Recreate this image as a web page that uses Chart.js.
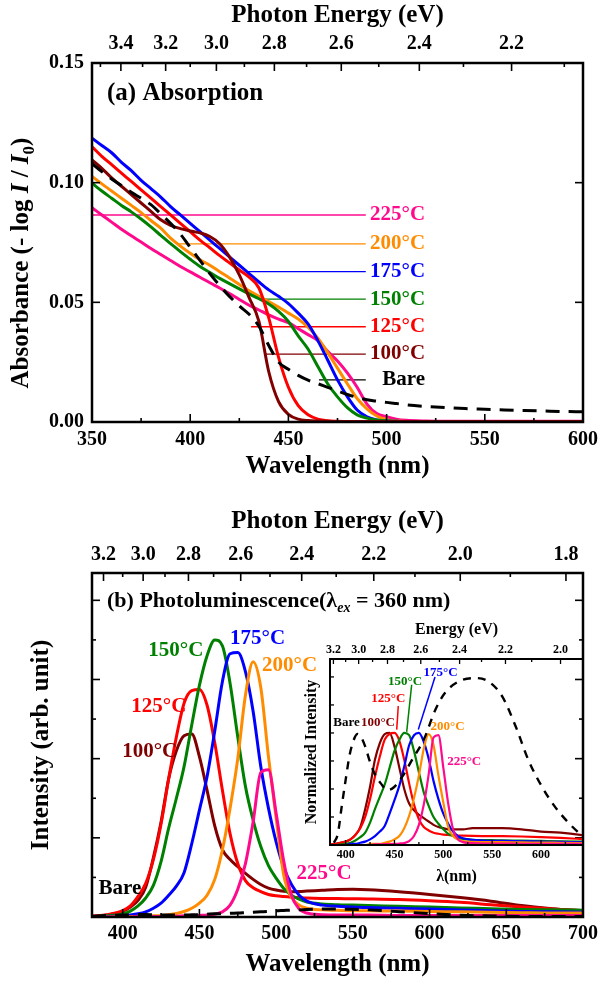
<!DOCTYPE html>
<html><head><meta charset="utf-8">
<script src="https://cdn.jsdelivr.net/npm/chart.js@4.4.0/dist/chart.umd.min.js"></script>
<style>
html,body{margin:0;padding:0;background:#fff;}
body{width:600px;height:985px;position:relative;overflow:hidden;}
canvas{position:absolute;}
</style></head><body>
<canvas id="cA" width="600" height="490" style="left:0;top:0"></canvas>
<canvas id="cB" width="600" height="495" style="left:0;top:490px"></canvas>
<canvas id="cC" width="310" height="275" style="left:290px;top:615px"></canvas>
<script>
// ---------------- DATA ----------------
const HC = 1240; // eV*nm conversion for the photon-energy axes

// (a) Absorption
const absWavelength = [350,355,360,365,370,375,380,385,390,395,400,405,410,415,420,425,430,435,440,445,450,455,460,465,470,475,480,485,490,495,500,505,510,520,530,540,550,560,570,580,590,600];
const absBare = [0.108,0.1046,0.1015,0.0988,0.096,0.0935,0.0908,0.087,0.083,0.0785,0.073,0.0675,0.062,0.057,0.0525,0.0485,0.045,0.04,0.032,0.025,0.022,0.0195,0.0175,0.016,0.0145,0.013,0.0115,0.0103,0.0093,0.0087,0.0082,0.0077,0.0072,0.0065,0.006,0.0056,0.0053,0.005,0.0048,0.0046,0.0044,0.0043];
const abs100 = [0.1095,0.106,0.102,0.0985,0.095,0.0915,0.088,0.0845,0.0822,0.0808,0.0798,0.079,0.0775,0.0745,0.069,0.0615,0.052,0.042,0.021,0.0085,0.0032,0.0012,0.0006,0.0004,0.0003,0.0002,0.0002,0.0002,0.0002,0.0002,0.0002,0.0002,0.0002,0.0002,0.0002,0.0002,0.0002,0.0002,0.0002,0.0002,0.0002,0.0002];
const abs125 = [0.115,0.111,0.1075,0.104,0.1005,0.097,0.0935,0.09,0.0865,0.083,0.0795,0.076,0.0728,0.0695,0.0665,0.0635,0.0605,0.056,0.0435,0.027,0.0145,0.0068,0.003,0.0012,0.0005,0.0003,0.0002,0.0002,0.0002,0.0002,0.0002,0.0002,0.0002,0.0002,0.0002,0.0002,0.0002,0.0002,0.0002,0.0002,0.0002,0.0002];
const abs150 = [0.0998,0.0965,0.0935,0.0905,0.0878,0.0848,0.0815,0.078,0.0745,0.0712,0.068,0.065,0.0625,0.06,0.0578,0.0556,0.0535,0.0515,0.0493,0.0462,0.042,0.036,0.0305,0.0232,0.016,0.0105,0.006,0.003,0.0016,0.0008,0.0004,0.0003,0.0002,0.0002,0.0002,0.0002,0.0002,0.0002,0.0002,0.0002,0.0002,0.0002];
const abs175 = [0.1186,0.1155,0.1125,0.1085,0.105,0.101,0.0975,0.094,0.09,0.0865,0.083,0.0795,0.076,0.0725,0.069,0.0655,0.062,0.0585,0.0552,0.0525,0.0495,0.0455,0.041,0.034,0.0259,0.0176,0.0106,0.005,0.0022,0.0009,0.0004,0.0003,0.0002,0.0002,0.0002,0.0002,0.0002,0.0002,0.0002,0.0002,0.0002,0.0002];
const abs200 = [0.1026,0.0995,0.0965,0.0935,0.0905,0.0875,0.0842,0.081,0.0768,0.0735,0.0705,0.0678,0.0655,0.0628,0.0602,0.0575,0.0548,0.0525,0.0503,0.048,0.0455,0.043,0.0396,0.035,0.029,0.0225,0.016,0.0098,0.0055,0.0025,0.001,0.0004,0.0002,0.0002,0.0002,0.0002,0.0002,0.0002,0.0002,0.0002,0.0002,0.0002];
const abs225 = [0.0895,0.0865,0.0835,0.0805,0.0778,0.0752,0.0725,0.07,0.0675,0.065,0.0627,0.0605,0.0582,0.056,0.0537,0.0512,0.0488,0.0468,0.0448,0.043,0.0415,0.039,0.0365,0.034,0.0295,0.0255,0.0205,0.0145,0.0075,0.0035,0.0022,0.0012,0.0007,0.0004,0.0003,0.0003,0.0003,0.0003,0.0003,0.0003,0.0003,0.0003];
const absLabelText = ['225°C','200°C','175°C','150°C','125°C','100°C','Bare'];
const absLabelKey = ['t225','t200','t175','t150','t125','t100','bare'];
const absLabelLevel = [0.0865,0.0744,0.0628,0.0513,0.0398,0.0284,0.0176];
const absLabelStartNm = [350,393.4,429,435,431,438.6,465.6];
const absLabelEndNm = 489.4;
const absLabelTextNm = 519.6;
const absNmMajor = [350,400,450,500,550,600];
const absNmMinor = [375,425,475,525,575];
const absEnergyMajor = [3.4,3.2,3.0,2.8,2.6,2.4,2.2];
const absEnergyMinor = [3.5,3.3,3.1,2.9,2.7,2.5,2.3,2.1];
const absYMajor = [0,0.05,0.10,0.15];

// (b) Photoluminescence
const plWavelength = [380,390,400,405,410,415,420,425,430,435,440,445,450,455,460,465,470,475,480,485,490,495,500,505,510,515,520,530,540,550,560,580,600,620,640,660,680,700];
const plBare = [0.02,0.04,0.05,0.055,0.06,0.06,0.055,0.05,0.05,0.05,0.05,0.055,0.06,0.07,0.08,0.085,0.095,0.1,0.11,0.12,0.13,0.14,0.155,0.165,0.175,0.18,0.19,0.2,0.2,0.195,0.18,0.135,0.085,0.045,0.025,0.015,0.01,0.01];
const pl100 = [0.02,0.05,0.14,0.25,0.42,0.75,1.5,2.4,3.5,4.2,4.58,4.62,4.05,3.2,2.3,1.7,1.45,1.27,1.1,0.95,0.82,0.73,0.68,0.65,0.64,0.645,0.655,0.675,0.695,0.7,0.69,0.64,0.57,0.49,0.4,0.29,0.21,0.16];
const pl125 = [0.02,0.06,0.16,0.28,0.52,0.85,1.45,2.35,3.5,4.55,5.4,5.72,5.75,5.35,4.4,3.2,2.1,1.35,0.92,0.74,0.64,0.57,0.535,0.515,0.5,0.49,0.48,0.47,0.465,0.46,0.455,0.44,0.41,0.37,0.31,0.25,0.2,0.16];
const pl150 = [0.01,0.03,0.08,0.15,0.28,0.48,0.8,1.4,2.25,3.0,3.8,4.85,5.85,6.6,7.0,6.85,5.9,4.55,3.3,2.45,1.78,1.3,0.98,0.72,0.55,0.45,0.38,0.33,0.31,0.3,0.29,0.27,0.25,0.23,0.21,0.19,0.18,0.17];
const pl175 = [0,0.01,0.03,0.05,0.08,0.13,0.22,0.35,0.55,0.78,1.12,1.85,2.7,3.55,4.7,5.95,6.65,6.68,6.2,5.2,3.8,2.75,1.9,1.25,0.82,0.55,0.4,0.3,0.27,0.25,0.24,0.22,0.2,0.18,0.16,0.14,0.13,0.12];
const pl200 = [0,0,0.01,0.01,0.02,0.02,0.03,0.04,0.06,0.09,0.14,0.22,0.35,0.55,0.95,1.7,2.75,4.0,5.6,6.45,5.8,4.05,2.5,1.05,0.5,0.3,0.22,0.18,0.17,0.16,0.16,0.15,0.14,0.13,0.12,0.11,0.1,0.1];
const pl225 = [0,0,0,0,0.01,0.01,0.01,0.01,0.02,0.02,0.03,0.03,0.04,0.05,0.07,0.13,0.3,0.7,1.35,2.4,3.65,3.72,2.62,1.4,0.55,0.2,0.1,0.06,0.05,0.05,0.05,0.04,0.04,0.04,0.04,0.04,0.04,0.04];
const plNmMajor = [400,450,500,550,600,650,700];
const plNmMinor = [425,475,525,575,625,675];
const plEnergyMajor = [3.2,3.0,2.8,2.6,2.4,2.2,2.0,1.8];
const plEnergyMinor = [3.1,2.9,2.7,2.5,2.3,2.1,1.9];
const plYMajor = [2,4,6,8];
const plYMinor = [1,3,5,7];
const plLabelText = ['Bare','100°C','125°C','150°C','175°C','200°C','225°C'];
const plLabelKey = ['bare','t100','t125','t150','t175','t200','t225'];
const plLabelNm = [398.2,417.6,423.6,434.6,487.9,508.8,531.3];
const plLabelVal = [0.72,4.17,5.31,6.74,7.04,6.34,1.10];

// inset: normalized PL
const norm100 = [0,0.01,0.03,0.05,0.09,0.16,0.32,0.52,0.76,0.91,0.99,1.0,0.88,0.69,0.5,0.37,0.31,0.27,0.24,0.21,0.18,0.16,0.15,0.14,0.14,0.14,0.14,0.15,0.15,0.15,0.15,0.14,0.12,0.11,0.09,0.06,0.05,0.03];
const norm125 = [0,0.01,0.03,0.05,0.09,0.15,0.25,0.41,0.61,0.79,0.94,0.99,1.0,0.93,0.76,0.55,0.36,0.23,0.16,0.13,0.11,0.1,0.093,0.09,0.087,0.085,0.083,0.081,0.08,0.08,0.079,0.076,0.071,0.064,0.054,0.043,0.035,0.028];
const norm150 = [0,0,0.01,0.02,0.04,0.07,0.11,0.2,0.32,0.43,0.54,0.69,0.84,0.94,1.0,0.98,0.84,0.65,0.47,0.35,0.25,0.19,0.14,0.1,0.08,0.064,0.054,0.047,0.044,0.043,0.041,0.039,0.036,0.033,0.03,0.027,0.026,0.024];
const norm175 = [0,0,0,0.01,0.01,0.02,0.03,0.05,0.08,0.12,0.17,0.28,0.4,0.53,0.7,0.89,0.98,1.0,0.92,0.77,0.57,0.41,0.28,0.19,0.12,0.08,0.06,0.045,0.04,0.037,0.036,0.033,0.03,0.027,0.024,0.021,0.019,0.018];
const norm200 = [0,0,0,0,0,0,0,0.01,0.01,0.01,0.02,0.03,0.05,0.08,0.15,0.26,0.42,0.62,0.86,0.99,0.89,0.62,0.38,0.16,0.08,0.05,0.034,0.028,0.026,0.025,0.025,0.023,0.022,0.02,0.018,0.017,0.015,0.015];
const norm225 = [0,0,0,0,0,0,0,0,0.005,0.005,0.008,0.008,0.01,0.013,0.018,0.034,0.08,0.18,0.36,0.63,0.96,0.98,0.69,0.37,0.14,0.05,0.026,0.016,0.013,0.013,0.013,0.01,0.01,0.01,0.01,0.01,0.01,0.01];
const insetBareNm = [388,392,396,400,404,408,412,416,420,425,430,436,443,450,458,468,480,492,502,516,533,546,560,574,587,601,614,628,642];
const insetBare = [0.02,0.1,0.345,0.58,0.8,0.93,0.99,0.96,0.88,0.74,0.63,0.55,0.49,0.52,0.61,0.76,0.94,1.21,1.36,1.46,1.49,1.46,1.33,1.06,0.76,0.52,0.345,0.2,0.08];
const insetLeaderKey = ['t125','t150','t175'];
const insetLeaderTopNm = [453.9,467.6,491.5];
const insetLeaderTopVal = [1.24,1.43,1.50];
const insetLeaderBotNm = [452.3,462.5,474.4];
const insetLeaderBotVal = [1.03,1.01,1.03];
const insetLabelText = ['Bare','100°C','125°C','150°C','175°C','200°C','225°C'];
const insetLabelKey = ['bare','t100','t125','t150','t175','t200','t225'];
const insetLabelNm = [400.9,433.1,443.7,460.8,497.1,504.3,521.4];
const insetLabelVal = [1.09,1.09,1.31,1.46,1.54,1.06,0.74];
const insetNmMajor = [400,450,500,550,600];
const insetNmMinor = [425,475,525,575,625];
const insetEnergyMajor = [3.2,3.0,2.8,2.6,2.4,2.2,2.0];
const insetEnergyMinor = [3.1,2.9,2.7,2.5,2.3,2.1];
const insetYTicks = [0.25,0.5,0.75,1.0,1.25,1.5];

// ---------------- STYLE ----------------
const COLORS = {bare:'#000000', t100:'#800000', t125:'#ff0000', t150:'#008000', t175:'#0000ff', t200:'#ff8c00', t225:'#ff0a8c'};
const FF = "'Liberation Serif','Times New Roman',serif";
const bf = s => 'bold ' + s + 'px ' + FF;
Chart.defaults.font.family = FF;
Chart.defaults.font.weight = 'bold';
Chart.defaults.color = '#000';

const pts = (xs, ys) => xs.map((x, i) => ({x, y: ys[i]}));
function fixedBox(size, horizontal) {
  return s => { if (horizontal) s.height = size; else s.width = size;
    s.paddingLeft = 0; s.paddingRight = 0; s.paddingTop = 0; s.paddingBottom = 0; };
}
const setTicks = vals => s => { s.ticks = vals.map(v => ({value: v})); };
const toNm = es => es.map(e => HC / e);

function line(data, key, w, dash) {
  return {data, borderColor: COLORS[key], backgroundColor: COLORS[key], borderWidth: w,
    borderDash: dash || [], pointRadius: 0, cubicInterpolationMode: 'monotone', fill: false};
}
function straight(data, key, w) {
  return {data, borderColor: COLORS[key], borderWidth: w, pointRadius: 0, tension: 0, fill: false};
}

function drawRich(ctx, R, a) {
  const x0 = R.rel ? a.left + R.x : R.x;
  const y0 = R.rel ? a.top + R.y : R.y;
  let w = 0;
  R.parts.forEach(p => { ctx.font = p.font; p.w = ctx.measureText(p.t).width; w += p.w; });
  ctx.save();
  ctx.translate(x0, y0);
  if (R.rot) ctx.rotate(R.rot);
  let x = R.align === 'center' ? -w / 2 : 0;
  ctx.textAlign = 'left'; ctx.textBaseline = 'alphabetic'; ctx.fillStyle = R.color || '#000';
  R.parts.forEach(p => { ctx.font = p.font; ctx.fillText(p.t, x, p.dy || 0); x += p.w; });
  ctx.restore();
}

const decor = {
  id: 'decor',
  afterDatasetsDraw(chart, args, o) {
    const ctx = chart.ctx, a = chart.chartArea;
    ctx.save();
    ctx.strokeStyle = '#000';
    ctx.lineWidth = o.tickWidth || 1.6;
    (o.ticks || []).forEach(t => {
      const s = chart.scales[t.scale];
      t.values.forEach(v => {
        const p = s.getPixelForValue(v);
        ctx.beginPath();
        if (t.side === 'bottom') { ctx.moveTo(p, a.bottom); ctx.lineTo(p, a.bottom - t.len); }
        else if (t.side === 'top') { ctx.moveTo(p, a.top); ctx.lineTo(p, a.top + t.len); }
        else if (t.side === 'left') { ctx.moveTo(a.left, p); ctx.lineTo(a.left + t.len, p); }
        else { ctx.moveTo(a.right, p); ctx.lineTo(a.right - t.len, p); }
        ctx.stroke();
      });
    });
    ctx.lineWidth = o.frameWidth || 2;
    ctx.strokeRect(a.left, a.top, a.right - a.left, a.bottom - a.top);
    (o.labels || []).forEach(L => {
      const x = chart.scales.x.getPixelForValue(L.x);
      const y = chart.scales.y.getPixelForValue(L.y);
      ctx.font = L.font; ctx.fillStyle = L.color; ctx.textAlign = L.align || 'center'; ctx.textBaseline = 'middle';
      ctx.fillText(L.text, x, y);
    });
    (o.rich || []).forEach(R => drawRich(ctx, R, a));
    ctx.restore();
  }
};

const baseOpts = {
  responsive: false, animation: false, events: [],
  plugins: {legend: {display: false}, tooltip: {enabled: false}},
};
const noGrid = {display: false, drawTicks: false};

// ---------------- (a) ABSORPTION ----------------
const absLabelLines = absLabelLevel.map((lv, i) =>
  straight([{x: absLabelStartNm[i], y: lv}, {x: absLabelEndNm, y: lv}], absLabelKey[i], 1.3));
new Chart(document.getElementById('cA'), {
  type: 'line',
  data: {datasets: [
    line(pts(absWavelength, absBare), 'bare', 3, [14, 9]),
    line(pts(absWavelength, abs100), 't100', 3),
    line(pts(absWavelength, abs125), 't125', 3),
    line(pts(absWavelength, abs150), 't150', 3),
    line(pts(absWavelength, abs175), 't175', 3),
    line(pts(absWavelength, abs200), 't200', 3),
    line(pts(absWavelength, abs225), 't225', 3),
    ...absLabelLines
  ]},
  options: Object.assign({}, baseOpts, {
    layout: {padding: {left: 0, right: 17, top: 0, bottom: 0}, autoPadding: false},
    scales: {
      x: {type: 'linear', position: 'bottom', min: 350, max: 600,
        afterBuildTicks: setTicks(absNmMajor), afterFit: fixedBox(68, true),
        grid: noGrid, border: {display: false},
        ticks: {autoSkip: false, maxRotation: 0, padding: 6, font: {size: 20, weight: 'bold'}, callback: v => String(v)},
        title: {display: true, text: 'Wavelength (nm)', font: {size: 25, weight: 'bold'}, padding: {top: 0, bottom: 8}}},
      xE: {type: 'linear', position: 'top', min: 350, max: 600,
        afterBuildTicks: setTicks(toNm(absEnergyMajor)), afterFit: fixedBox(63, true),
        grid: noGrid, border: {display: false},
        ticks: {autoSkip: false, maxRotation: 0, padding: 7, font: {size: 20, weight: 'bold'}, callback: (v, i) => absEnergyMajor[i].toFixed(1)},
        title: {display: true, text: 'Photon Energy (eV)', font: {size: 25, weight: 'bold'}, padding: {top: 1, bottom: 0}}},
      y: {type: 'linear', position: 'left', min: 0, max: 0.15,
        afterBuildTicks: setTicks(absYMajor), afterFit: fixedBox(92, false),
        grid: noGrid, border: {display: false},
        ticks: {padding: 8, font: {size: 20, weight: 'bold'}, callback: v => v.toFixed(2)}}
    },
    plugins: Object.assign({}, baseOpts.plugins, {decor: {
      frameWidth: 2.5,
      ticks: [
        {scale: 'x', side: 'bottom', values: absNmMajor, len: 8},
        {scale: 'x', side: 'bottom', values: absNmMinor, len: 4},
        {scale: 'xE', side: 'top', values: toNm(absEnergyMajor), len: 8},
        {scale: 'xE', side: 'top', values: toNm(absEnergyMinor), len: 4},
        {scale: 'y', side: 'left', values: absYMajor, len: 8},
        {scale: 'y', side: 'right', values: absYMajor, len: 8}
      ],
      labels: absLabelText.map((t, i) => ({text: t, x: absLabelTextNm, y: absLabelLevel[i],
        color: COLORS[absLabelKey[i]], font: bf(21), align: 'right'})),
      rich: [
        {rel: true, x: 15, y: 37, parts: [{t: '(a) Absorption', font: bf(25)}]},
        {x: 28, y: 263, rot: -Math.PI / 2, align: 'center', parts: [
          {t: 'Absorbance (- log ', font: bf(25)},
          {t: 'I', font: 'italic ' + bf(25)},
          {t: ' / ', font: bf(25)},
          {t: 'I', font: 'italic ' + bf(25)},
          {t: '0', font: bf(17), dy: 6},
          {t: ')', font: bf(25)}]}
      ]
    }})
  }),
  plugins: [decor]
});

// ---------------- (b) PHOTOLUMINESCENCE ----------------
new Chart(document.getElementById('cB'), {
  type: 'line',
  data: {datasets: [
    line(pts(plWavelength, plBare), 'bare', 3, [14, 9]),
    line(pts(plWavelength, pl225), 't225', 3),
    line(pts(plWavelength, pl200), 't200', 3),
    line(pts(plWavelength, pl175), 't175', 3),
    line(pts(plWavelength, pl150), 't150', 3),
    line(pts(plWavelength, pl125), 't125', 3),
    line(pts(plWavelength, pl100), 't100', 3)
  ]},
  options: Object.assign({}, baseOpts, {
    layout: {padding: {left: 0, right: 17, top: 0, bottom: 0}, autoPadding: false},
    scales: {
      x: {type: 'linear', position: 'bottom', min: 380, max: 700,
        afterBuildTicks: setTicks(plNmMajor), afterFit: fixedBox(68, true),
        grid: noGrid, border: {display: false},
        ticks: {autoSkip: false, maxRotation: 0, padding: 5, font: {size: 20, weight: 'bold'}, callback: v => String(v)},
        title: {display: true, text: 'Wavelength (nm)', font: {size: 25, weight: 'bold'}, padding: {top: 0, bottom: 5}}},
      xE: {type: 'linear', position: 'top', min: 380, max: 700,
        afterBuildTicks: setTicks(toNm(plEnergyMajor)), afterFit: fixedBox(83, true),
        grid: noGrid, border: {display: false},
        ticks: {autoSkip: false, maxRotation: 0, padding: 6, font: {size: 20, weight: 'bold'}, callback: (v, i) => plEnergyMajor[i].toFixed(1)},
        title: {display: true, text: 'Photon Energy (eV)', font: {size: 25, weight: 'bold'}, padding: {top: 17, bottom: 0}}},
      y: {type: 'linear', position: 'left', min: 0, max: 8.69,
        afterFit: fixedBox(92, false),
        grid: noGrid, border: {display: false},
        ticks: {display: false},
        title: {display: true, text: 'Intensity (arb. unit)', font: {size: 25, weight: 'bold'}, padding: {top: 27, bottom: 0}}}
    },
    plugins: Object.assign({}, baseOpts.plugins, {decor: {
      frameWidth: 2.5,
      ticks: [
        {scale: 'x', side: 'bottom', values: plNmMajor, len: 8},
        {scale: 'x', side: 'bottom', values: plNmMinor, len: 4},
        {scale: 'xE', side: 'top', values: toNm(plEnergyMajor), len: 8},
        {scale: 'xE', side: 'top', values: toNm(plEnergyMinor), len: 4},
        {scale: 'y', side: 'left', values: plYMajor, len: 8},
        {scale: 'y', side: 'left', values: plYMinor, len: 4},
        {scale: 'y', side: 'right', values: plYMajor, len: 8},
        {scale: 'y', side: 'right', values: plYMinor, len: 4}
      ],
      labels: plLabelText.map((t, i) => ({text: t, x: plLabelNm[i], y: plLabelVal[i],
        color: COLORS[plLabelKey[i]], font: bf(21)})),
      rich: [
        {rel: true, x: 15, y: 34, parts: [
          {t: '(b) Photoluminescence(', font: bf(22)},
          {t: 'λ', font: bf(22)},
          {t: 'ex', font: 'italic ' + bf(14), dy: 5},
          {t: ' = 360 nm)', font: bf(22)}]}
      ]
    }})
  }),
  plugins: [decor]
});

// ---------------- INSET ----------------
const leaderLines = insetLeaderKey.map((k, i) =>
  straight([{x: insetLeaderTopNm[i], y: insetLeaderTopVal[i]}, {x: insetLeaderBotNm[i], y: insetLeaderBotVal[i]}], k, 1.5));
new Chart(document.getElementById('cC'), {
  type: 'line',
  data: {datasets: [
    line(pts(insetBareNm, insetBare), 'bare', 2.4, [8, 7]),
    line(pts(plWavelength, norm225), 't225', 2.2),
    line(pts(plWavelength, norm200), 't200', 2.2),
    line(pts(plWavelength, norm175), 't175', 2.2),
    line(pts(plWavelength, norm150), 't150', 2.2),
    line(pts(plWavelength, norm125), 't125', 2.2),
    line(pts(plWavelength, norm100), 't100', 2.2),
    ...leaderLines
  ]},
  options: Object.assign({}, baseOpts, {
    layout: {padding: {left: 0, right: 17, top: 0, bottom: 0}, autoPadding: false},
    scales: {
      x: {type: 'linear', position: 'bottom', min: 384, max: 643,
        afterBuildTicks: setTicks(insetNmMajor), afterFit: fixedBox(45, true),
        grid: noGrid, border: {display: false},
        ticks: {autoSkip: false, maxRotation: 0, padding: 3, font: {size: 12, weight: 'bold'}, callback: v => String(v)},
        title: {display: true, text: 'λ(nm)', font: {size: 16, weight: 'bold'}, padding: {top: 0, bottom: 4}}},
      xE: {type: 'linear', position: 'top', min: 384, max: 643,
        afterBuildTicks: setTicks(toNm(insetEnergyMajor)), afterFit: fixedBox(44, true),
        grid: noGrid, border: {display: false},
        ticks: {autoSkip: false, maxRotation: 0, padding: 2, font: {size: 12, weight: 'bold'}, callback: (v, i) => insetEnergyMajor[i].toFixed(1)},
        title: {display: true, text: 'Energy (eV)', font: {size: 16, weight: 'bold'}, padding: {top: 5, bottom: 0}}},
      y: {type: 'linear', position: 'left', min: 0, max: 1.66,
        afterFit: fixedBox(40, false),
        grid: noGrid, border: {display: false},
        ticks: {display: false},
        title: {display: true, text: 'Normalized Intensity', font: {size: 16, weight: 'bold'}, padding: {top: 12, bottom: 0}}}
    },
    plugins: Object.assign({}, baseOpts.plugins, {decor: {
      frameWidth: 2, tickWidth: 1.3,
      ticks: [
        {scale: 'x', side: 'bottom', values: insetNmMajor, len: 5},
        {scale: 'x', side: 'bottom', values: insetNmMinor, len: 3},
        {scale: 'xE', side: 'top', values: toNm(insetEnergyMajor), len: 5},
        {scale: 'xE', side: 'top', values: toNm(insetEnergyMinor), len: 3},
        {scale: 'y', side: 'left', values: insetYTicks, len: 4}
      ],
      labels: insetLabelText.map((t, i) => ({text: t, x: insetLabelNm[i], y: insetLabelVal[i],
        color: COLORS[insetLabelKey[i]], font: bf(13)}))
    }})
  }),
  plugins: [decor]
});
</script>
</body></html>
